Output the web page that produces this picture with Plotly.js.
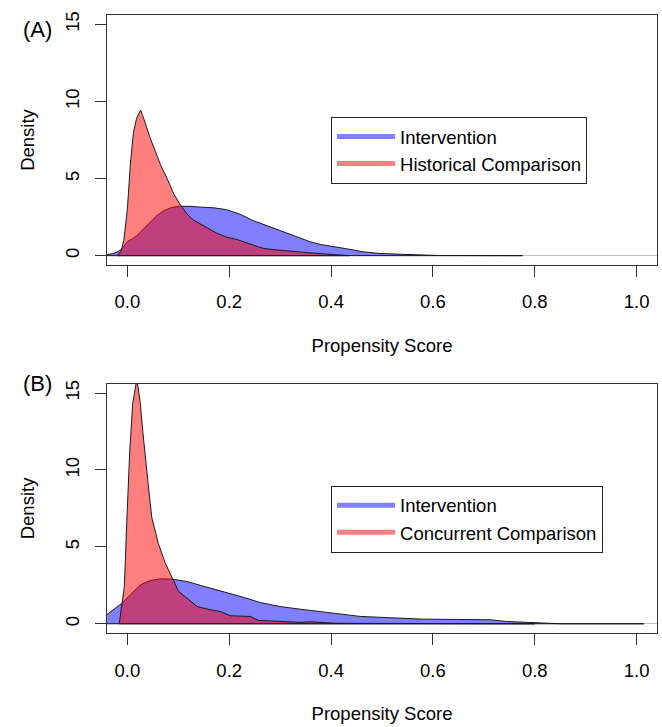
<!DOCTYPE html>
<html>
<head>
<meta charset="utf-8">
<script src="https://cdn.plot.ly/plotly-3.0.1.min.js"></script>
<style>html,body{margin:0;padding:0;background:#fff;}</style>
</head>
<body>
<div id="chart" style="width:662px;height:727px;"></div>
<script>
// Panel (A): Intervention vs Historical Comparison
const aInterventionX = [-0.07, -0.04, -0.03, -0.02, -0.012, -0.007, 0.0, 0.01, 0.019, 0.032, 0.045, 0.058, 0.071, 0.085, 0.1, 0.12, 0.143, 0.17, 0.195, 0.222, 0.245, 0.261, 0.287, 0.3, 0.32, 0.339, 0.359, 0.38, 0.4, 0.43, 0.463, 0.496, 0.53, 0.58, 0.61, 0.776];
const aInterventionY = [0.02, 0.08, 0.12, 0.23, 0.4, 0.6, 0.9, 1.1, 1.3, 1.75, 2.2, 2.6, 2.9, 3.1, 3.2, 3.2, 3.15, 3.1, 2.98, 2.68, 2.3, 2.1, 1.8, 1.6, 1.4, 1.15, 0.9, 0.72, 0.62, 0.45, 0.25, 0.14, 0.1, 0.06, 0.01, 0];
const aHistoricalX = [-0.02, -0.012, -0.007, 0.0, 0.006, 0.012, 0.018, 0.026, 0.032, 0.045, 0.058, 0.065, 0.078, 0.091, 0.104, 0.117, 0.13, 0.143, 0.156, 0.176, 0.195, 0.215, 0.241, 0.267, 0.29, 0.313, 0.336, 0.359, 0.38, 0.398, 0.42, 0.435];
const aHistoricalY = [0, 0.3, 1.0, 3.0, 6.0, 8.0, 8.9, 9.43, 8.9, 7.6, 6.5, 5.9, 5.0, 4.0, 3.3, 2.7, 2.3, 2.05, 1.85, 1.45, 1.2, 1.05, 0.75, 0.47, 0.38, 0.33, 0.25, 0.18, 0.12, 0.07, 0.02, 0];

// Panel (B): Intervention vs Concurrent Comparison
const bInterventionX = [-0.06, -0.041, -0.027, -0.0104, 0.006, 0.0255, 0.045, 0.0647, 0.0876, 0.117, 0.143, 0.176, 0.202, 0.23, 0.261, 0.3, 0.339, 0.378, 0.418, 0.457, 0.496, 0.529, 0.581, 0.65, 0.712, 0.745, 0.79, 0.823, 0.85, 1.014];
const bInterventionY = [0.3, 0.58, 0.91, 1.34, 1.88, 2.53, 2.81, 2.92, 2.9, 2.75, 2.5, 2.2, 1.99, 1.7, 1.38, 1.12, 0.95, 0.8, 0.63, 0.48, 0.42, 0.37, 0.3, 0.28, 0.26, 0.15, 0.09, 0.04, 0.0, 0];
const bConcurrentX = [-0.016, -0.010, -0.006, -0.001, 0.0045, 0.0104, 0.0157, 0.018, 0.021, 0.0255, 0.03, 0.036, 0.042, 0.048, 0.061, 0.0745, 0.0876, 0.1006, 0.117, 0.137, 0.163, 0.182, 0.202, 0.241, 0.257, 0.29, 0.32, 0.339, 0.359, 0.385, 0.411, 0.5, 0.7, 0.8];
const bConcurrentY = [0, 1.34, 2.4, 6.75, 11.1, 14.3, 15.5, 15.8, 15.4, 14.3, 12.6, 10.5, 8.7, 6.9, 5.2, 3.94, 2.97, 2.1, 1.67, 1.12, 0.91, 0.8, 0.52, 0.48, 0.22, 0.18, 0.15, 0.09, 0.13, 0.09, 0.03, 0.02, 0.01, 0];

const xTickVals = [0, 0.2, 0.4, 0.6, 0.8, 1.0];
const xTickText = ['0.0', '0.2', '0.4', '0.6', '0.8', '1.0'];
const yTickVals = [0, 5, 10, 15];
const yTickText = ['0', '5', '10', '15'];
const seriesNames = ['Intervention', 'Historical Comparison', 'Concurrent Comparison'];

const BLUE = 'rgba(0,0,255,0.5)';
const RED = 'rgba(255,0,0,0.5)';
const FONT = 'Liberation Sans, Arial, sans-serif';

function polygon(xs, ys) {
  const px = [xs[0]].concat(xs, [xs[xs.length - 1], xs[0]]);
  const py = [0].concat(ys, [0, 0]);
  return {x: px, y: py};
}
function area(xs, ys, color, xa, ya) {
  const p = polygon(xs, ys);
  return {x: p.x, y: p.y, xaxis: xa, yaxis: ya, type: 'scatter', mode: 'lines',
    fill: 'toself', fillcolor: color, line: {color: '#1a1a1a', width: 1},
    showlegend: false, hoverinfo: 'skip'};
}
function key(name, color, xa, ya, legend) {
  return {x: [null], y: [null], xaxis: xa, yaxis: ya, type: 'scatter', mode: 'lines',
    name: name, line: {color: color, width: 5}, legend: legend, showlegend: true};
}

const data = [
  area(aInterventionX, aInterventionY, BLUE, 'x', 'y'),
  area(aHistoricalX, aHistoricalY, RED, 'x', 'y'),
  area(bInterventionX, bInterventionY, BLUE, 'x2', 'y2'),
  area(bConcurrentX, bConcurrentY, RED, 'x2', 'y2'),
  key(seriesNames[0], BLUE, 'x', 'y', 'legend'),
  key(seriesNames[1], RED, 'x', 'y', 'legend'),
  key(seriesNames[0], BLUE, 'x2', 'y2', 'legend2'),
  key(seriesNames[2], RED, 'x2', 'y2', 'legend2')
];

function xAxis(anchor) {
  return {anchor: anchor, domain: [0, 1], range: [-0.04, 1.04], tickvals: xTickVals, ticktext: xTickText,
    ticks: 'outside', ticklen: 11, tickcolor: '#333', tickwidth: 1, ticklabelstandoff: 9,
    showline: true, mirror: true, linecolor: '#333', linewidth: 1.3, showgrid: false, zeroline: false,
    tickfont: {family: FONT, size: 18.5, color: '#000'},
    title: {text: 'Propensity Score', font: {family: FONT, size: 18.5, color: '#000'}, standoff: 27},
    automargin: false};
}
function yAxis(anchor, domain) {
  return {anchor: anchor, domain: domain, range: [-0.6, 15.6], tickvals: yTickVals, ticktext: yTickText,
    tickangle: -90, ticks: 'outside', ticklen: 11, tickcolor: '#333', tickwidth: 1, ticklabelstandoff: 8,
    showline: true, mirror: true, linecolor: '#333', linewidth: 1.3, showgrid: false,
    zeroline: true, zerolinecolor: '#BEBEBE', zerolinewidth: 1,
    tickfont: {family: FONT, size: 18.5, color: '#000'},
    title: {text: 'Density', font: {family: FONT, size: 18.5, color: '#000'}, standoff: 22},
    automargin: false};
}

const legendBase = {xref: 'paper', yref: 'paper', xanchor: 'left', yanchor: 'top',
  bgcolor: '#fff', bordercolor: '#222', borderwidth: 1,
  font: {family: FONT, size: 18.5, color: '#000'}, itemwidth: 58, tracegroupgap: 0};

const layout = {
  width: 662, height: 727,
  margin: {l: 107, r: 5, t: 15, b: 94, pad: 0},
  paper_bgcolor: '#fff', plot_bgcolor: '#fff',
  font: {family: FONT, size: 18.5, color: '#000'},
  xaxis: xAxis('y'),
  yaxis: yAxis('x', [0.5956, 1]),
  xaxis2: xAxis('y2'),
  yaxis2: yAxis('x2', [0, 0.4032]),
  legend: Object.assign({x: 0.4073, y: 0.835}, legendBase),
  legend2: Object.assign({x: 0.4073, y: 0.2383}, legendBase),
  annotations: [
    {text: '(A)', xref: 'paper', yref: 'paper', x: -0.127, y: 0.976, xanchor: 'center', yanchor: 'middle',
      showarrow: false, font: {family: FONT, size: 22, color: '#000'}},
    {text: '(B)', xref: 'paper', yref: 'paper', x: -0.127, y: 0.403, xanchor: 'center', yanchor: 'middle',
      showarrow: false, font: {family: FONT, size: 22, color: '#000'}}
  ],
  showlegend: true
};

Plotly.newPlot('chart', data, layout, {displayModeBar: false, staticPlot: true});
</script>
</body>
</html>
